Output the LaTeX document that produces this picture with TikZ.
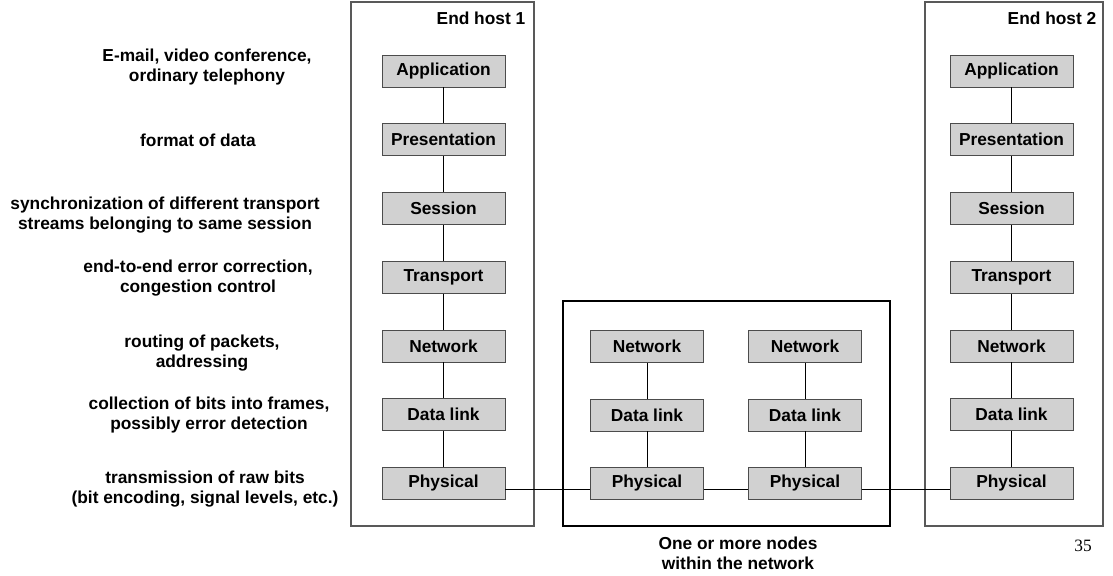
\documentclass[tikz,border=0pt]{standalone}
\usepackage{fontspec}
\setmainfont{Liberation Sans}
\newfontfamily\pagefont{Liberation Serif}
\usetikzlibrary{positioning}

\begin{document}
\begin{tikzpicture}[x=0.75pt,y=-0.75pt,
    layer/.style={draw=black!70,fill=black!18,minimum width=92pt,minimum height=24pt,inner sep=0pt,font=\fontsize{13}{15}\selectfont\bfseries},
    note/.style={align=center,font=\fontsize{13}{15}\selectfont\bfseries},
    frame/.style={draw=black!65,line width=1.1pt}]
    \useasboundingbox (0,0) rectangle (1113,575);
    \draw[frame] (351,2) rectangle (534,526);
    \draw[frame] (925,2) rectangle (1103,526);
    \draw[frame,draw=black] (563,301) rectangle (890,526);
    \node[note,anchor=east] at (530,18)(h1) {End host 1};
    \node[note,anchor=east] at (1101,18)(h2) {End host 2};

    \foreach \t [count=\i] in {Application,Presentation,Session,Transport,Network,Data link,Physical}
    {
        \node[layer] at (443.5,{71+(\i-1)*68.75})(a\i) {\t};
        \node[layer] at (1011.5,{71+(\i-1)*68.75})(b\i) {\t};
    }
    \foreach \i [count=\j from 2] in {1,...,6}
    {
        \draw (a\i) -- (a\j);
        \draw (b\i) -- (b\j);
    }

    \foreach \t [count=\i] in {Network,Data link,Physical}
    {
        \node[layer,minimum width=85pt] at (647,{346.5+(\i-1)*68.5})(c\i) {\t};
        \node[layer,minimum width=85pt] at (805,{346.5+(\i-1)*68.5})(d\i) {\t};
    }
    \foreach \i [count=\j from 2] in {1,2}
    {
        \draw (c\i) -- (c\j);
        \draw (d\i) -- (d\j);
    }
    \draw ([yshift=-4pt]a7.east) -- ([yshift=-4pt]c3.west);
    \draw ([yshift=-4pt]c3.east) -- ([yshift=-4pt]d3.west);
    \draw ([yshift=-4pt]d3.east) -- ([yshift=-4pt]b7.west);

    \node[note] at (207,67)(n1) {E-mail, video conference,\\ordinary telephony};
    \node[note] at (198,140)(n2) {format of data};
    \node[note] at (165,215)(n3) {synchronization of different transport\\streams belonging to same session};
    \node[note] at (198,278)(n4) {end-to-end error correction,\\congestion control};
    \node[note] at (202,353)(n5) {routing of packets,\\addressing};
    \node[note] at (209,415)(n6) {collection of bits into frames,\\possibly error detection};
    \node[note] at (205,489)(n7) {transmission of raw bits\\(bit encoding, signal levels, etc.)};

    \node[note] at (738,553)(mid) {One or more nodes\\within the network};
    \node[font=\pagefont\fontsize{13}{15}\selectfont] at (1083,546)(pg) {35};
\end{tikzpicture}
\end{document}
